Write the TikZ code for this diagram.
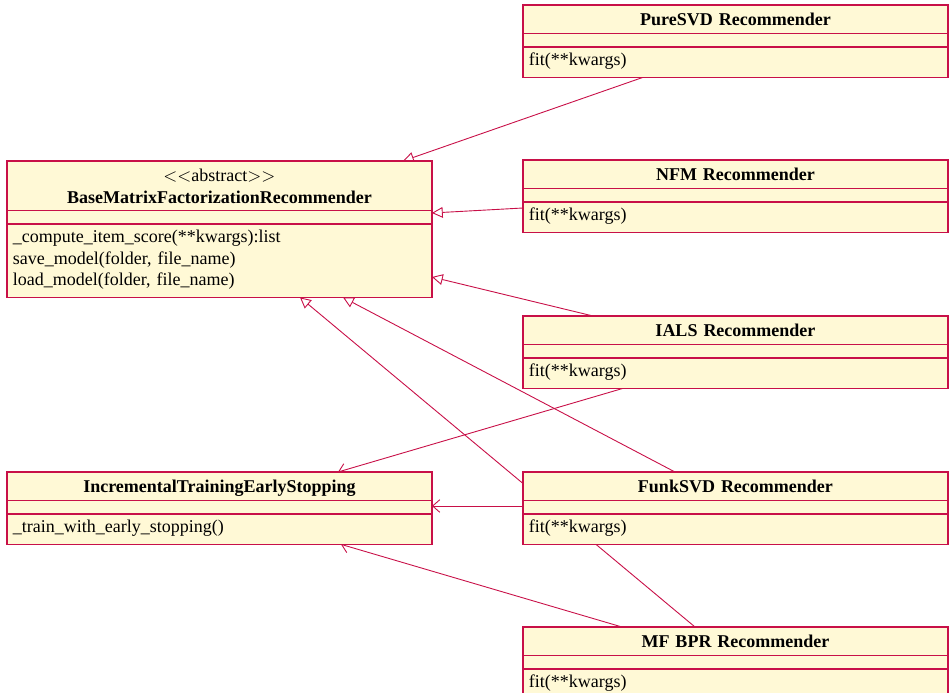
\documentclass[tikz,border=0pt]{standalone}
\usepackage{fontspec}
\setmainfont{Liberation Serif}
\usetikzlibrary{arrows.meta, positioning, shapes.multipart, backgrounds, calc}

\definecolor{umlred}{RGB}{200,16,72}
\definecolor{umlfill}{RGB}{255,249,214}
\setlength{\parindent}{0pt}

\newcommand{\titlestrut}{\rule[-3.9pt]{0pt}{15pt}}
\newcommand{\emptystrut}{\rule{0pt}{6.7pt}}
\newcommand{\opstrut}{\rule[-6.1pt]{0pt}{16.1pt}}

\begin{document}
\begin{tikzpicture}[x=0.5556pt, y=-0.5556pt,
    umlclass/.style={draw=umlred, text=black, line width=0.8pt, fill=umlfill,
        rectangle split, rectangle split parts=3, rectangle split draw splits=false,
        text width=229.5pt, inner xsep=3.3pt, inner ysep=0pt, outer sep=0pt, anchor=north west},
    umlsplit/.style={draw=umlred, line width=0.8pt},
    generalize/.style={draw=umlred, line width=0.5pt,
        -{Triangle[length=6pt, width=6pt, fill=white]}},
    assoc/.style={draw=umlred, line width=0.5pt,
        -{Straight Barb[length=4pt, width=7pt]}}]
    \useasboundingbox (0,0) rectangle (950,693);

    % left column
    \node[umlclass] (base) at (7,161) {\centering\rule{0pt}{11pt}\ensuremath{<<}abstract\ensuremath{>>}\\
        \textbf{BaseMatrixFactorizationRecommender}\rule[-3.6pt]{0pt}{3.6pt}\par
        \nodepart{two}\emptystrut
        \nodepart{three}\rule{0pt}{10pt}\_compute\_item\_score(**kwargs):list\\
        save\_model(folder, file\_name)\\
        load\_model(folder, file\_name)\rule[-6.1pt]{0pt}{6.1pt}};
    \node[umlclass] (incremental) at (7,472) {\centering\titlestrut\textbf{IncrementalTrainingEarlyStopping}\par
        \nodepart{two}\emptystrut
        \nodepart{three}\opstrut\_train\_with\_early\_stopping()};

    % right column
    \node[umlclass] (puresvd) at (523,5) {\centering\titlestrut\textbf{PureSVD Recommender}\par
        \nodepart{two}\emptystrut
        \nodepart{three}\opstrut fit(**kwargs)};
    \node[umlclass] (nfm) at (523,160) {\centering\titlestrut\textbf{NFM Recommender}\par
        \nodepart{two}\emptystrut
        \nodepart{three}\opstrut fit(**kwargs)};
    \node[umlclass] (ials) at (523,316) {\centering\titlestrut\textbf{IALS Recommender}\par
        \nodepart{two}\emptystrut
        \nodepart{three}\opstrut fit(**kwargs)};
    \node[umlclass] (funksvd) at (523,472) {\centering\titlestrut\textbf{FunkSVD Recommender}\par
        \nodepart{two}\emptystrut
        \nodepart{three}\opstrut fit(**kwargs)};
    \node[umlclass] (mfbpr) at (523,627) {\centering\titlestrut\textbf{MF BPR Recommender}\par
        \nodepart{two}\emptystrut
        \nodepart{three}\opstrut fit(**kwargs)};

    % compartment lines
    \foreach \cls in {base,incremental,puresvd,nfm,ials,funksvd,mfbpr}
        \draw[umlsplit] (\cls.text split west) -- (\cls.text split east)
                        (\cls.two split west) -- (\cls.two split east);

    % inheritance and associations, behind the boxes
    \begin{scope}[on background layer]
        \draw[generalize] ($(puresvd.south west)+(120,0)$) -- ($(base.north west)+(396,0)$);
        \draw[generalize] ($(nfm.north west)+(0,48)$) -- ($(base.north east)+(0,52)$);
        \draw[generalize] ($(ials.north west)+(70,0)$) -- ($(base.north east)+(0,116)$);
        \draw[generalize] ($(funksvd.north west)+(152,0)$) -- ($(base.south west)+(336,0)$);
        \draw[generalize] ($(mfbpr.north west)+(172,0)$) -- ($(base.south west)+(293,0)$);
        \draw[assoc] ($(ials.south west)+(100,0)$) -- ($(incremental.north west)+(331,0)$);
        \draw[assoc] ($(funksvd.north west)+(0,34)$) -- ($(incremental.north east)+(0,34)$);
        \draw[assoc] ($(mfbpr.north west)+(99,0)$) -- ($(incremental.south west)+(334,0)$);
    \end{scope}
\end{tikzpicture}
\end{document}
